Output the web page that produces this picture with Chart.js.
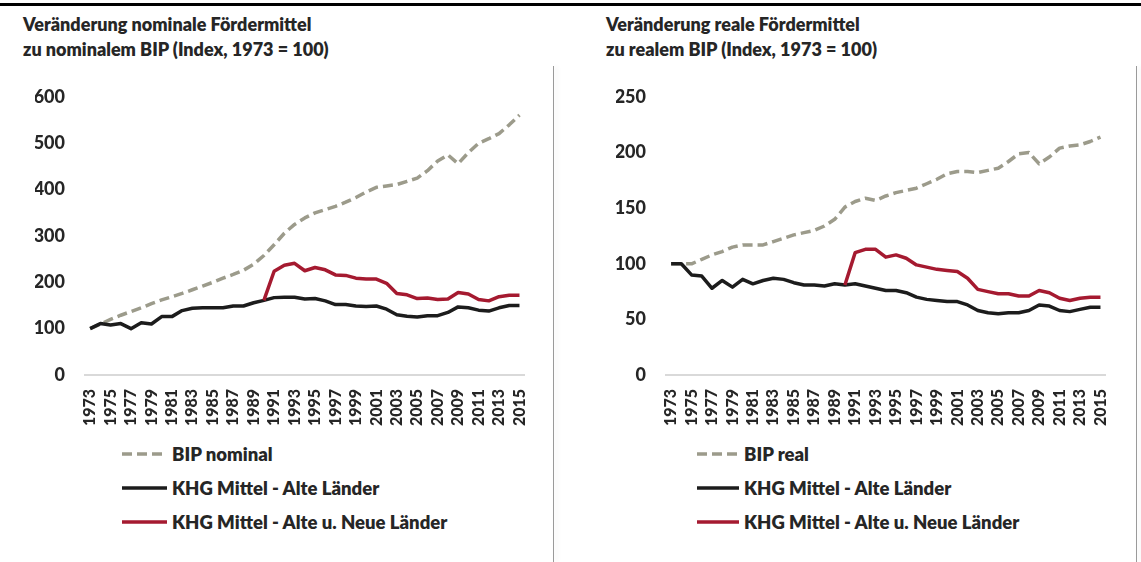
<!DOCTYPE html>
<html><head><meta charset="utf-8">
<script src="https://cdn.jsdelivr.net/npm/chart.js@4.4.1/dist/chart.umd.min.js"></script>
<style>
html,body{margin:0;padding:0;background:#fff;}
body{width:1141px;height:562px;position:relative;overflow:hidden;font-family:Lato,'Open Sans',sans-serif;color:#262626;}
.topbar{position:absolute;left:0;top:3px;width:1141px;height:3px;background:#000;}
.sep{position:absolute;top:66px;width:1px;height:496px;background:#9a9a9a;box-shadow:3px 0 4px rgba(0,0,0,0.10);}
.title{position:absolute;top:12px;font-weight:800;font-size:18px;line-height:25px;white-space:nowrap;}
.wrap{position:absolute;top:78px;width:553px;height:352px;}
.legend{position:absolute;top:437px;font-weight:800;font-size:18.5px;}
.legend .row{height:34px;display:flex;align-items:center;white-space:nowrap;}
.legend svg{margin-right:5px;display:block;}
</style>
</head>
<body>
<div class="topbar"></div>
<div class="title" style="left:23px">Veränderung nominale Fördermittel<br>zu nominalem BIP (Index, 1973 = 100)</div>
<div class="title" style="left:606px">Veränderung reale Fördermittel<br>zu realem BIP (Index, 1973 = 100)</div>
<div class="wrap" style="left:0px"><canvas id="c1"></canvas></div>
<div class="wrap" style="left:581px"><canvas id="c2"></canvas></div>
<div class="legend" id="lg1" style="left:122px"></div>
<div class="legend" id="lg2" style="left:697px"></div>
<div class="sep" style="left:553px"></div>
<div class="sep" style="left:1136px"></div>
<script>
// ---- data ----
const years = ['1973','1974','1975','1976','1977','1978','1979','1980','1981','1982',
  '1983','1984','1985','1986','1987','1988','1989','1990','1991','1992',
  '1993','1994','1995','1996','1997','1998','1999','2000','2001','2002',
  '2003','2004','2005','2006','2007','2008','2009','2010','2011','2012',
  '2013','2014','2015'];

const bipNominal = [100,110,120,129,137,145,154,162,169,176,
  184,192,200,209,217,226,239,258,281,306,
  325,339,350,357,364,373,383,395,405,408,
  411,418,425,441,462,475,456,480,500,510,
  521,540,561];
const khgAltNominal = [100,111,108,111,100,113,110,126,126,139,
  144,145,145,145,149,149,156,161,167,168,
  168,164,165,160,152,152,149,148,149,142,
  130,127,125,128,128,135,147,145,140,138,
  145,150,150];
const khgAltNeuNominal = [null,null,null,null,null,null,null,null,null,null,
  null,null,null,null,null,null,null,161,224,237,
  241,225,232,227,216,215,209,207,207,198,
  176,173,165,166,163,164,178,175,163,160,
  169,172,172];

const bipReal = [100,100,100,104,108,111,115,117,117,117,
  120,123,126,128,130,134,140,151,156,159,
  157,161,164,166,168,172,176,181,183,183,
  182,184,186,192,199,200,190,196,204,206,
  207,210,214];
const khgAltReal = [100,100,90,89,78,85,79,86,82,85,
  87,86,83,81,81,80,82,81,82,80,
  78,76,76,74,70,68,67,66,66,63,
  58,56,55,56,56,58,63,62,58,57,
  59,61,61];
const khgAltNeuReal = [null,null,null,null,null,null,null,null,null,null,
  null,null,null,null,null,null,null,81,110,113,
  113,106,108,105,99,97,95,94,93,87,
  77,75,73,73,71,71,76,74,69,67,
  69,70,70];

const seriesNamesLeft = ['BIP nominal','KHG Mittel - Alte Länder','KHG Mittel - Alte u. Neue Länder'];
const seriesNamesRight = ['BIP real','KHG Mittel - Alte Länder','KHG Mittel - Alte u. Neue Länder'];
const yTicksLeft = {max:600, step:100};
const yTicksRight = {max:250, step:50};

// ---- styles ----
const GRAY = '#9c9b8b', BLACK = '#1c1c1c', RED = '#a51a30';
const TXT = '#262626';
const FONT = 'Lato';

function makeDatasets(names, a, b, c) {
  return [
    {label:names[0], data:a, borderColor:GRAY, borderDash:[10,5], order:3},
    {label:names[1], data:b, borderColor:BLACK, order:2},
    {label:names[2], data:c, borderColor:RED, order:1}
  ];
}

function buildChart(id, datasets, yCfg) {
  return new Chart(document.getElementById(id), {
    type:'line',
    data:{labels:years, datasets:datasets},
    options:{
      responsive:true, maintainAspectRatio:false, animation:false,
      layout:{padding:{left:35,right:28,top:19,bottom:0}},
      plugins:{legend:{display:false}, tooltip:{enabled:false}},
      elements:{point:{radius:0}, line:{tension:0, borderWidth:3.5, borderCapStyle:'butt', borderJoinStyle:'round'}},
      scales:{
        x:{
          offset:true,
          grid:{display:false, drawTicks:false},
          border:{display:true, color:'#d9d9d9', width:2},
          ticks:{autoSkip:false, minRotation:90, maxRotation:90, padding:14, color:TXT,
            font:{family:FONT, weight:'900', size:16},
            callback:function(v,i){ return i%2===0 ? this.getLabelForValue(v) : ''; }},
          afterFit:function(s){ s.height = 55; }
        },
        y:{
          min:0, max:yCfg.max,
          grid:{display:false, drawTicks:false},
          border:{display:false},
          ticks:{stepSize:yCfg.step, padding:20, color:TXT, font:{family:FONT, weight:'900', size:18}},
          afterFit:function(s){ s.width = 50; s.paddingTop = 0; s.paddingBottom = 0; }
        }
      }
    }
  });
}

function buildLegend(id, datasets, w) {
  const el = document.getElementById(id);
  datasets.forEach(ds => {
    const row = document.createElement('div');
    row.className = 'row';
    const dash = ds.borderDash ? ' stroke-dasharray="10 5"' : '';
    row.innerHTML = '<svg width="'+w+'" height="4"><line x1="0" y1="2" x2="'+w+'" y2="2" stroke="'+ds.borderColor+'" stroke-width="3.5"'+dash+'/></svg><span>'+ds.label+'</span>';
    el.appendChild(row);
  });
}

const ds1 = makeDatasets(seriesNamesLeft, bipNominal, khgAltNominal, khgAltNeuNominal);
const ds2 = makeDatasets(seriesNamesRight, bipReal, khgAltReal, khgAltNeuReal);
buildChart('c1', ds1, yTicksLeft);
buildChart('c2', ds2, yTicksRight);
buildLegend('lg1', ds1, 45);
buildLegend('lg2', ds2, 42);
</script>
</body></html>
